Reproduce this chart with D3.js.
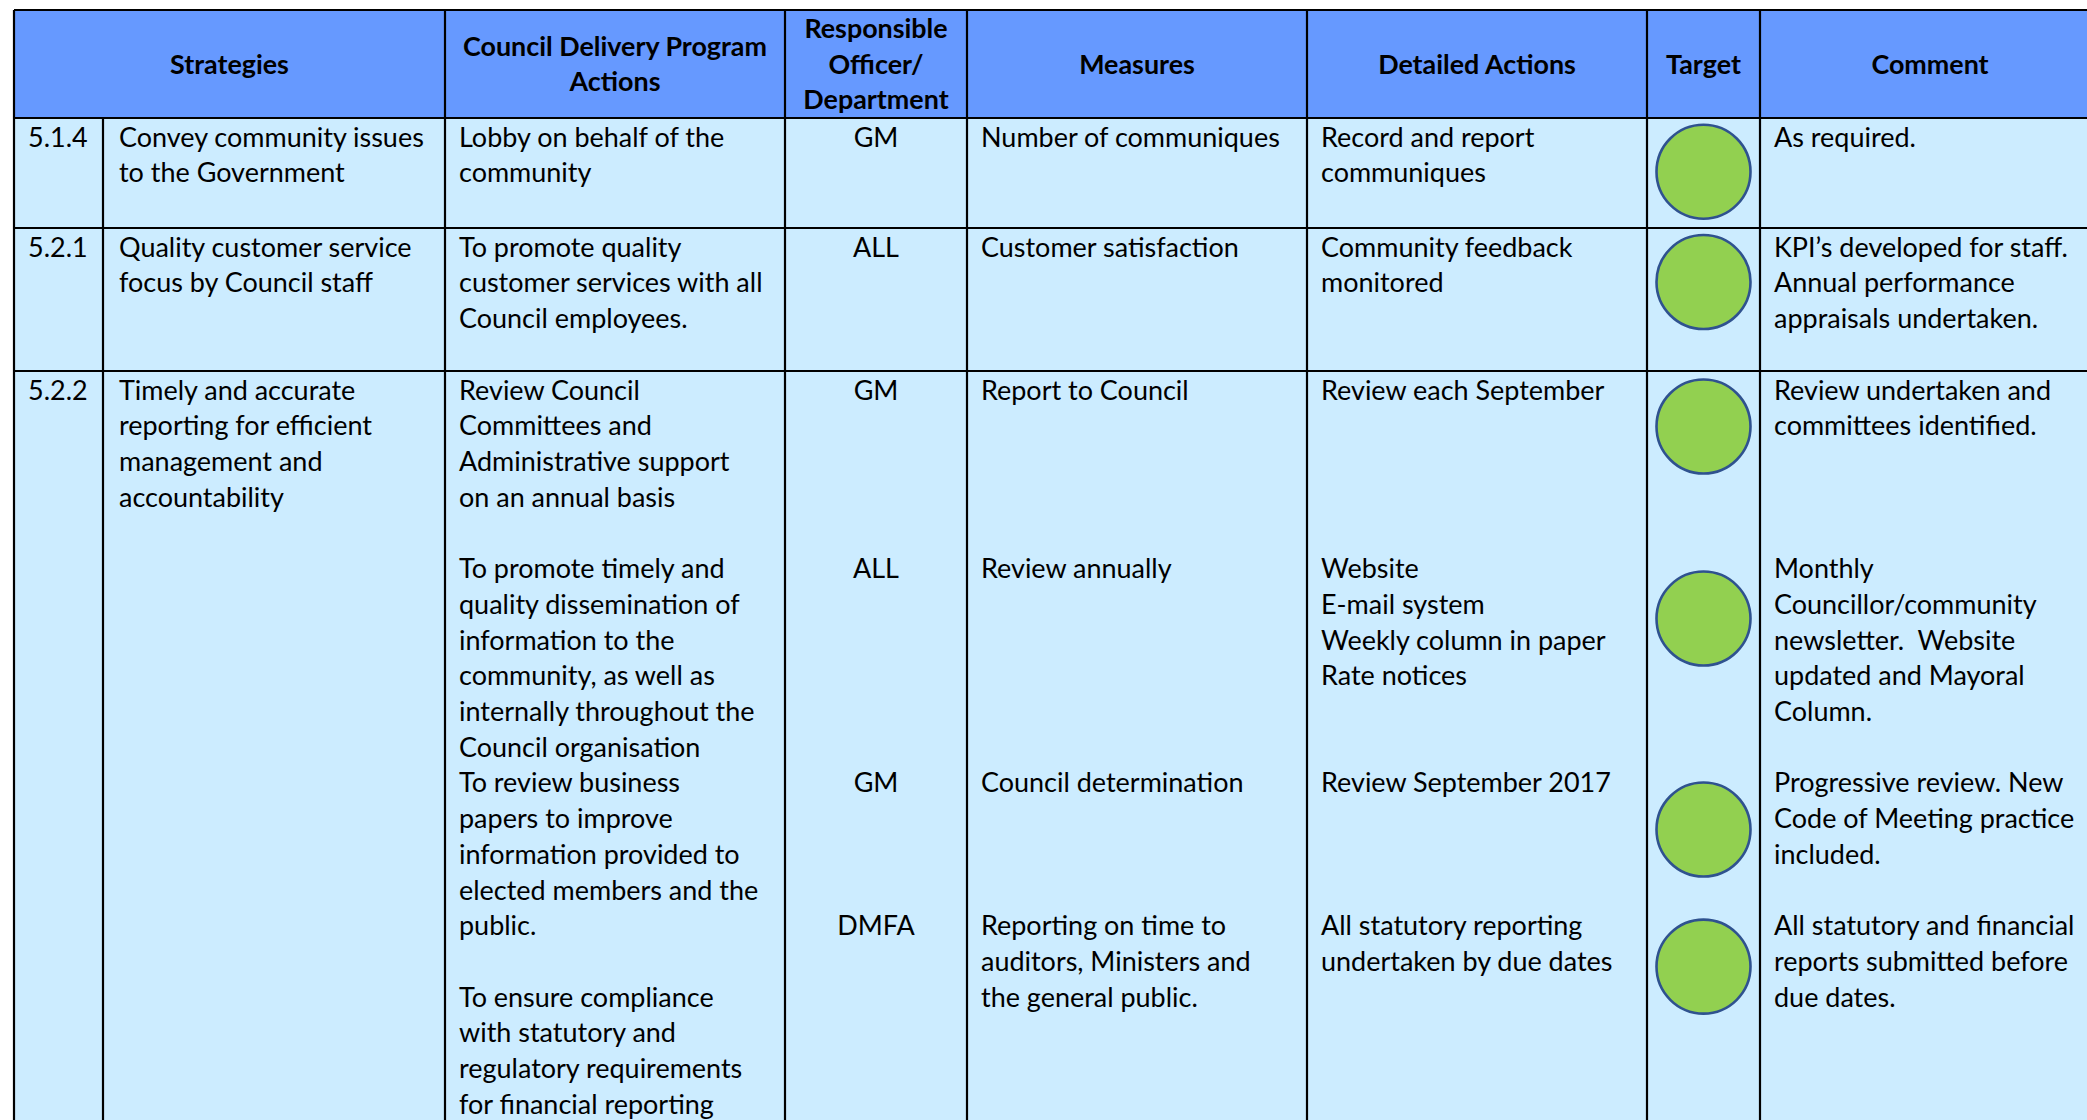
<!DOCTYPE html>
<html><head><meta charset="utf-8">
<script src="https://cdn.jsdelivr.net/npm/d3@7"></script>
<style>html,body{margin:0;padding:0;background:#fff;overflow:hidden}</style>
</head><body><svg id="c" width="2087" height="1120"></svg>
<script>
// ---------------- DATA ----------------
const headerTitles = [
  ["Strategies"],
  ["Council Delivery Program", "Actions"],
  ["Responsible", "Officer/", "Department"],
  ["Measures"],
  ["Detailed Actions"],
  ["Target"],
  ["Comment"]
];
const codes = ["5.1.4", "5.2.1", "5.2.2"];
const strategies = [
  ["Convey community issues", "to the Government"],
  ["Quality customer service", "focus by Council staff"],
  ["Timely and accurate", "reporting for efficient", "management and", "accountability"]
];
const cdpActions = [
  ["Lobby on behalf of the", "community"],
  ["To promote quality", "customer services with all", "Council employees."],
  ["Review Council", "Committees and", "Administrative support", "on an annual basis", "",
   "To promote timely and", "quality dissemination of", "information to the", "community, as well as",
   "internally throughout the", "Council organisation", "To review business", "papers to improve",
   "information provided to", "elected members and the", "public.", "",
   "To ensure compliance", "with statutory and", "regulatory requirements", "for financial reporting"]
];
// sub-items (one per officer entry)
const itemRow  = [0, 1, 2, 2, 2, 2];
const itemLine = [0, 0, 0, 5, 11, 15];
const officers = ["GM", "ALL", "GM", "ALL", "GM", "DMFA"];
const measures = [
  ["Number of communiques"],
  ["Customer satisfaction"],
  ["Report to Council"],
  ["Review annually"],
  ["Council determination"],
  ["Reporting on time to", "auditors, Ministers and", "the general public."]
];
const detailedActions = [
  ["Record and report", "communiques"],
  ["Community feedback", "monitored"],
  ["Review each September"],
  ["Website", "E-mail system", "Weekly column in paper", "Rate notices"],
  ["Review September 2017"],
  ["All statutory reporting", "undertaken by due dates"]
];
const targetStatus = ["green", "green", "green", "green", "green", "green"];
const targetLineOffset = [0.70, 0.71, 0.75, 1.13, 1.04, 0.88];
const comments = [
  ["As required."],
  ["KPI\u2019s developed for staff.", "Annual performance", "appraisals undertaken."],
  ["Review undertaken and", "committees identified."],
  ["Monthly", "Councillor/community", "newsletter.  Website", "updated and Mayoral", "Column."],
  ["Progressive review. New", "Code of Meeting practice", "included."],
  ["All statutory and financial", "reports submitted before", "due dates."]
];

// ---------------- LAYOUT / STYLE ----------------
const W = 2087, H = 1120;
const FONT = "Lato, 'Open Sans', sans-serif";
const colKeys = ["code", "strategy", "cdp", "officer", "measure", "detail", "target", "comment"];
const colEdges = [14, 103, 445, 785, 967, 1307, 1647, 1760, 2100];
const tableTop = 10, headerBottom = 118;
const rowTops = [118, 228, 371];
const rowBottoms = [228, 371, 1200];
const firstBaseline = 28.7, lineH = 35.7, headLineH = 35.5, headBaseline = 73.5;
const pad = 14;
const HEADER_FILL = "#6699FF", BODY_FILL = "#CCECFF", LINE = "#000";
const statusColor = d3.scaleOrdinal().domain(["green", "amber", "red"]).range(["#92D050", "#FFC000", "#FF0000"]);
const circleR = 47;

const colLeft = d3.scaleOrdinal().domain(colKeys).range(colEdges.slice(0, 8));
const colRight = d3.scaleOrdinal().domain(colKeys).range(colEdges.slice(1));
const colMid = k => (colLeft(k) + colRight(k)) / 2;
const rowLine = codes.map((c, r) => d3.scaleLinear().domain([0, 1]).range([rowTops[r] + firstBaseline, rowTops[r] + firstBaseline + lineH]));

const svg = d3.select("#c");
svg.append("rect").attr("width", W).attr("height", H).attr("fill", "#fff");

// calibrate font sizes so line widths match the reference
function fitSize(txt, weight, target) {
  const p = svg.append("text").attr("font-family", FONT).attr("font-weight", weight).attr("font-size", 100).text(txt);
  const w = p.node().getComputedTextLength();
  p.remove();
  return 100 * target / w;
}
const bodySize = fitSize("Convey community issues", 400, 305);
const headSize = fitSize("Council Delivery Program", 700, 304);

// backgrounds
svg.append("rect").attr("x", colEdges[0]).attr("y", tableTop).attr("width", colEdges[8] - colEdges[0]).attr("height", headerBottom - tableTop).attr("fill", HEADER_FILL);
svg.append("rect").attr("x", colEdges[0]).attr("y", headerBottom).attr("width", colEdges[8] - colEdges[0]).attr("height", H - headerBottom + 50).attr("fill", BODY_FILL);

// grid lines
const grid = svg.append("g").attr("stroke", LINE).attr("stroke-width", 2.2);
[tableTop, headerBottom, rowBottoms[0], rowBottoms[1]].forEach(y =>
  grid.append("line").attr("x1", colEdges[0]).attr("x2", colEdges[8]).attr("y1", y).attr("y2", y));
colEdges.slice(0, 8).forEach((x, i) =>
  grid.append("line").attr("x1", x).attr("x2", x).attr("y1", i === 1 ? headerBottom : tableTop).attr("y2", H + 10));

// header
const headerSpans = [["code", "strategy"], ["cdp"], ["officer"], ["measure"], ["detail"], ["target"], ["comment"]];
const hg = svg.append("g").attr("font-family", FONT).attr("font-weight", 700).attr("font-size", headSize).attr("fill", "#000").attr("text-anchor", "middle");
headerTitles.forEach((lines, i) => {
  const span = headerSpans[i];
  const cx = (colLeft(span[0]) + colRight(span[span.length - 1])) / 2;
  hg.selectAll(null).data(lines).enter().append("text")
    .attr("x", cx)
    .attr("y", (d, k) => headBaseline + (k - (lines.length - 1) / 2) * headLineH)
    .text(d => d);
});

// body text helper
const bg = svg.append("g").attr("font-family", FONT).attr("font-size", bodySize).attr("fill", "#000");
function block(lines, x, scale, startLine, anchor) {
  bg.selectAll(null).data(lines).enter().append("text")
    .attr("x", x)
    .attr("y", (d, k) => scale(startLine + k))
    .attr("text-anchor", anchor || "start")
    .attr("xml:space", "preserve")
    .style("white-space", "pre")
    .text(d => d);
}

codes.forEach((c, r) => {
  block([c], colLeft("code") + pad, rowLine[r], 0);
  block(strategies[r], colLeft("strategy") + pad + 2, rowLine[r], 0);
  block(cdpActions[r], colLeft("cdp") + pad, rowLine[r], 0);
});

officers.forEach((o, i) => {
  const sc = rowLine[itemRow[i]], l = itemLine[i];
  block([o], colMid("officer"), sc, l, "middle");
  block(measures[i], colLeft("measure") + pad, sc, l);
  block(detailedActions[i], colLeft("detail") + pad, sc, l);
  block(comments[i], colLeft("comment") + pad, sc, l);
});

// target circles
svg.append("g").selectAll("circle").data(targetStatus).enter().append("circle")
  .attr("cx", colMid("target"))
  .attr("cy", (d, i) => rowLine[itemRow[i]](itemLine[i] + targetLineOffset[i]))
  .attr("r", circleR)
  .attr("fill", d => statusColor(d))
  .attr("stroke", "#2F528F")
  .attr("stroke-width", 2.6);
</script>
</body></html>
